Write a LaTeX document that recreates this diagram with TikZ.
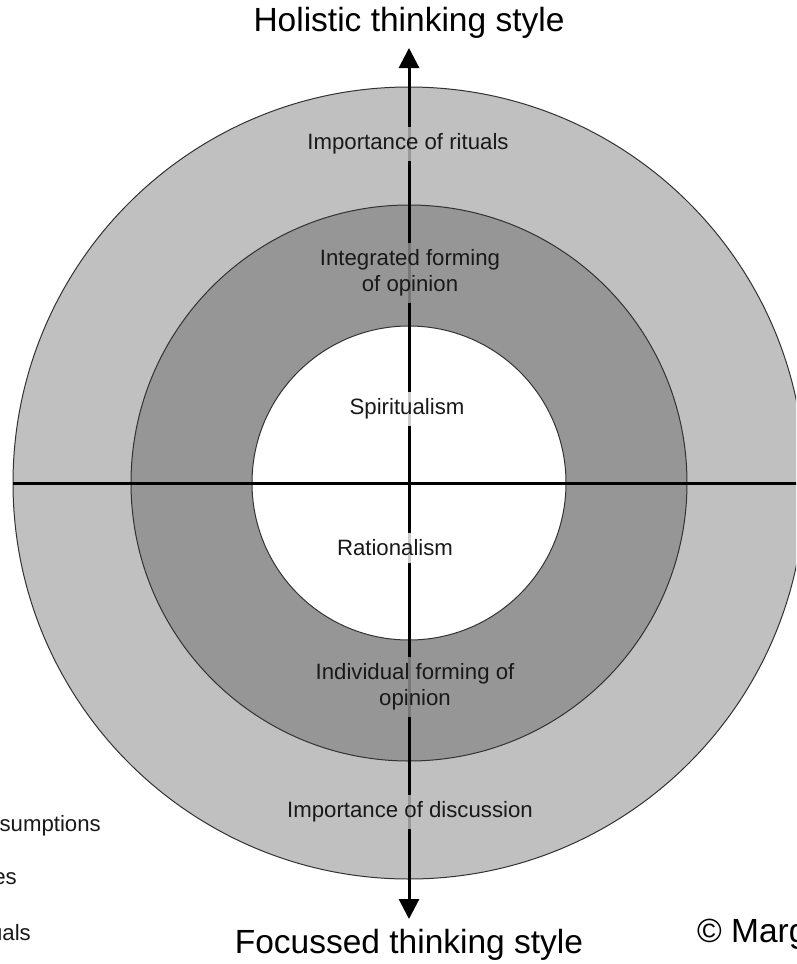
\documentclass[tikz,border=0pt]{standalone}
\usepackage{fontspec}
\setmainfont{Liberation Sans}
\usetikzlibrary{arrows.meta,positioning}

\definecolor{outerring}{RGB}{192,192,192}
\definecolor{middlering}{RGB}{150,150,150}
\definecolor{ringline}{RGB}{50,50,50}
\definecolor{textgrey}{RGB}{25,25,25}

\tikzset{
	ring/.style={draw=ringline,line width=1pt},
	axisline/.style={line width=3pt,black},
	ringtext/.style={font=\fontsize{22.2}{26}\selectfont,text=textgrey,align=center,inner xsep=2pt,inner ysep=7pt,fill opacity=0.8,text opacity=1},
	axistitle/.style={font=\fontsize{33.5}{38}\selectfont,inner sep=0pt},
	legendtext/.style={font=\fontsize{22.2}{26}\selectfont,text=textgrey,inner sep=0pt,anchor=east}
}

\begin{document}
\begin{tikzpicture}[x=1pt,y=-1pt]
	\useasboundingbox (0,0) rectangle (796,964);
	\fill[white] (0,0) rectangle (796,964);
	\clip (0,0) rectangle (796,964);

	\begin{scope} % Rings
		\coordinate (centre) at (409,483);
		\filldraw[ring,fill=outerring] (centre) circle (396pt);
		\filldraw[ring,fill=middlering] (centre) circle (278pt);
		\filldraw[ring,fill=white] (centre) circle (157pt);
	\end{scope}

	\begin{scope} % Axes
		\coordinate (west) at (13,483);
		\coordinate (east) at (800,483);
		\coordinate (top) at (409,48);
		\coordinate (bottom) at (409,919);
		\draw[axisline] (west) -- (east);
		\draw[axisline,{Triangle[length=20pt,width=20pt]}-{Triangle[length=20pt,width=20pt]}] (bottom) -- (top);
	\end{scope}

	\begin{scope} % Ring labels
		\node[ringtext,fill=outerring] (rituals) at (408,144) {Importance of rituals};
		\node[ringtext,fill=middlering] (integrated) at (410,273) {Integrated forming\\of opinion};
		\node[ringtext,fill=white] (spirit) at (407,409) {Spiritualism};
		\node[ringtext,fill=white] (ratio) at (395,548) {Rationalism};
		\node[ringtext,fill=middlering] (individual) at (415,687) {Individual forming of\\opinion};
		\node[ringtext,fill=outerring] (discussion) at (410,812) {Importance of discussion};
	\end{scope}

	% Axis titles
	\node[axistitle] (holistic) at (409,23) {Holistic thinking style};
	\node[axistitle] (focussed) at (409,945) {Focussed thinking style};
	\node[axistitle,anchor=west] (copyright) at (697,934) {© Marg};

	% Cut-off legend
	\node[legendtext] (assumptions) at (101,826) {sumptions};
	\node[legendtext] (values) at (17,879) {es};
	\node[legendtext] (rituals2) at (31,933) {uals};
\end{tikzpicture}
\end{document}
